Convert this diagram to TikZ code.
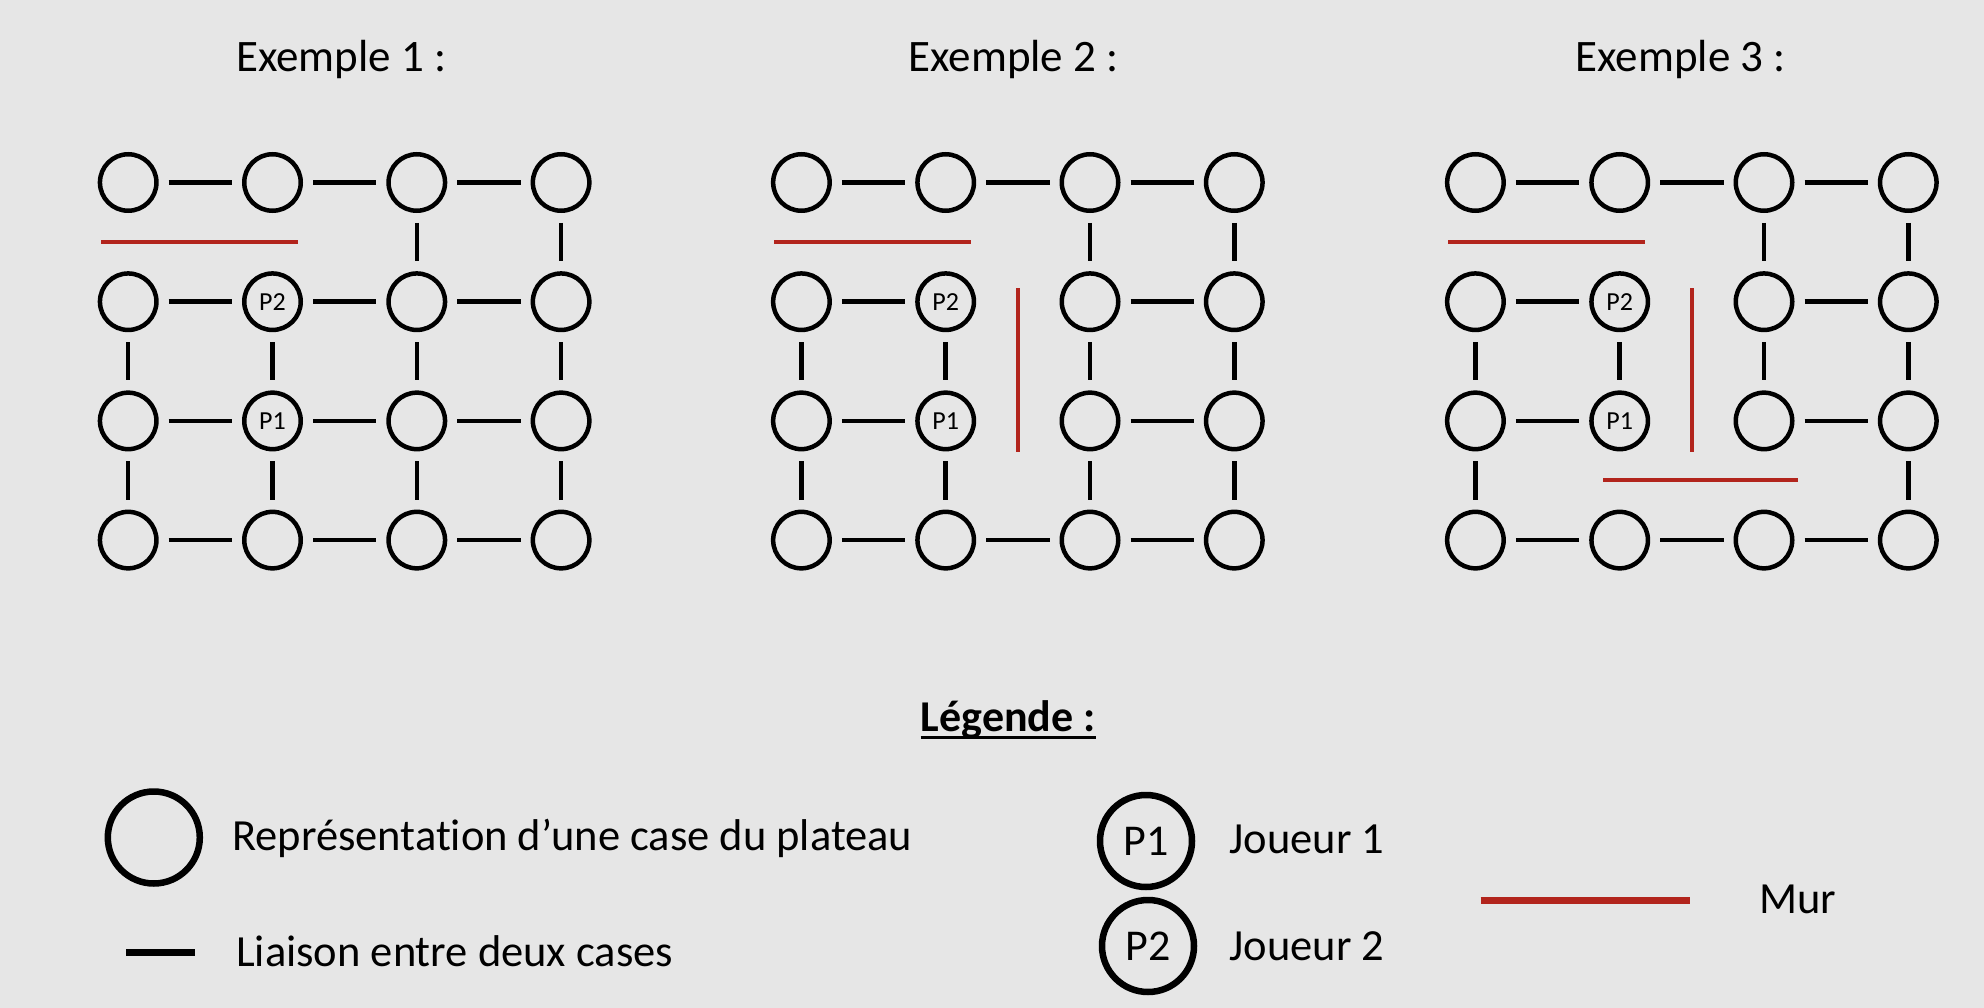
\documentclass[tikz,border=0pt]{standalone}
\usepackage{fontspec}
\setmainfont{Carlito}[Ligatures=NoCommon]
\usetikzlibrary{calc}
\definecolor{bgcol}{RGB}{230,230,230}
\definecolor{wallred}{RGB}{178,36,28}
\begin{document}
\begin{tikzpicture}[x=1pt,y=-1pt,
  cell/.style={circle,draw=black,line width=4.5pt,minimum size=56.5pt,inner sep=0pt,
    font=\fontsize{26}{28}\selectfont},
  link/.style={draw=black,line width=4.5pt,shorten <=10pt,shorten >=10pt},
  wall/.style={draw=wallred,line width=4pt},
  txt/.style={inner sep=0pt,anchor=base west},
  bigtxt/.style={txt,font=\fontsize{45}{50}\selectfont},
  midtxt/.style={txt,font=\fontsize{44.5}{50}\selectfont},
  lcell/.style={circle,draw=black,line width=6.5pt,minimum size=92pt,inner sep=0pt,
    font=\fontsize{44}{50}\selectfont}]
\fill[bgcol] (0,0) rectangle (1984,1008);
\useasboundingbox (0,0) rectangle (1984,1008);

% titles
\node[bigtxt] (t1) at (236,71.7) {Exemple 1 :};
\node[bigtxt] (t2) at (908.2,71.7) {Exemple 2 :};
\node[bigtxt] (t3) at (1575.4,71.7) {Exemple 3 :};

% grids
\foreach \ex/\xo in {1/128.2,2/801.4,3/1475.4}{
  \foreach \c in {1,...,4}{
    \foreach \r in {1,...,4}{
      \def\lab{}
      \ifnum\c=2 \ifnum\r=2 \def\lab{P2}\fi\ifnum\r=3 \def\lab{P1}\fi\fi
      \node[cell] (e\ex-\c-\r) at ({\xo+(\c-1)*144.3},{182.5+(\r-1)*119.2}) {\lab};
    }
  }
}

% links example 1
\foreach \a/\b in {1-1/2-1,2-1/3-1,3-1/4-1,
                   1-2/2-2,2-2/3-2,3-2/4-2,
                   1-3/2-3,2-3/3-3,3-3/4-3,
                   1-4/2-4,2-4/3-4,3-4/4-4,
                   3-1/3-2,4-1/4-2,
                   1-2/1-3,2-2/2-3,3-2/3-3,4-2/4-3,
                   1-3/1-4,2-3/2-4,3-3/3-4,4-3/4-4}
  \draw[link] (e1-\a) -- (e1-\b);

% links example 2
\foreach \a/\b in {1-1/2-1,2-1/3-1,3-1/4-1,
                   1-2/2-2,3-2/4-2,
                   1-3/2-3,3-3/4-3,
                   1-4/2-4,2-4/3-4,3-4/4-4,
                   3-1/3-2,4-1/4-2,
                   1-2/1-3,2-2/2-3,3-2/3-3,4-2/4-3,
                   1-3/1-4,2-3/2-4,3-3/3-4,4-3/4-4}
  \draw[link] (e2-\a) -- (e2-\b);

% links example 3
\foreach \a/\b in {1-1/2-1,2-1/3-1,3-1/4-1,
                   1-2/2-2,3-2/4-2,
                   1-3/2-3,3-3/4-3,
                   1-4/2-4,2-4/3-4,3-4/4-4,
                   3-1/3-2,4-1/4-2,
                   1-2/1-3,2-2/2-3,3-2/3-3,4-2/4-3,
                   1-3/1-4,4-3/4-4}
  \draw[link] (e3-\a) -- (e3-\b);

% walls
\foreach \xo in {128.2,801.4,1475.4}
  \draw[wall] ({\xo-27},242.5) -- ({\xo+169.5},242.5);
\foreach \xo in {801.4,1475.4}
  \draw[wall] ({\xo+216.4},288.3) -- ({\xo+216.4},451.7);
\draw[wall] ({1475.4+127.8},480.3) -- ({1475.4+322.1},480.3);

% legend
\node[txt,font=\fontsize{44}{50}\selectfont\bfseries] (leg) at (920.7,731.7) {Légende :};
\draw[line width=2.7pt] ([yshift=-5.6pt]leg.base west) -- ([yshift=-5.6pt]leg.base east);

\node[lcell] (lc) at (153.8,837.5) {};
\node[midtxt] (lct) at (232,850) {Représentation d’une case du plateau};

\coordinate (la) at (126,952.7);
\coordinate (lb) at (195,952.7);
\draw[line width=7.3pt] (la) -- (lb);
\node[midtxt] (lbt) at (236,966.7) {Liaison entre deux cases};

\node[lcell] (lp1) at (1146,841) {P1};
\node[lcell] (lp2) at (1148,946) {P2};
\node[midtxt] (lj1) at (1229.3,853.3) {Joueur 1};
\node[midtxt] (lj2) at (1229.3,960) {Joueur 2};

\coordinate (ma) at (1480.7,900.7);
\coordinate (mb) at (1689.6,900.7);
\draw[draw=wallred,line width=6.7pt] (ma) -- (mb);
\node[midtxt] (mur) at (1759,913.3) {Mur};
\end{tikzpicture}
\end{document}
